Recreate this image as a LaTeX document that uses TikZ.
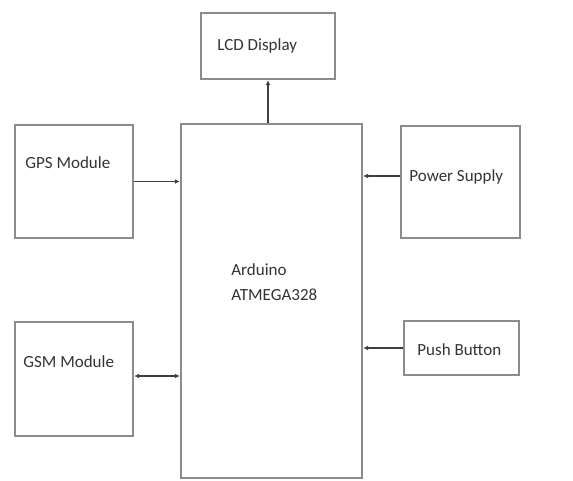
\documentclass[tikz,border=0pt]{standalone}
\usepackage{fontspec}
\setmainfont{Carlito}
\usetikzlibrary{arrows.meta}

\begin{document}
\begin{tikzpicture}[
    x=0.5pt, y=-0.5pt,
    >={Latex[length=2.5pt,width=2.5pt]},
    box/.style={draw=black!45, line width=1.2pt, rectangle, inner sep=0pt},
    label/.style={font=\fontsize{8.5}{10}\selectfont, text=black!80, anchor=west, inner sep=0pt},
    link/.style={->, line width=0.6pt, color=black!75}
]
    \useasboundingbox (0,0) rectangle (573,481);

    % Controller in the middle
    \node[box, minimum width=90.5pt, minimum height=177pt] (main) at (271.5,301) {};
    \node[label] (mainA) at (231,270) {Arduino};
    \node[label] (mainB) at (231,295) {ATMEGA328};

    % LCD on top
    \node[box, minimum width=67pt, minimum height=33pt] (lcd) at (268,46) {};
    \node[label] (lcdtxt) at (217,46) {LCD Display};

    % Left blocks
    \node[box, minimum width=59pt, minimum height=56.5pt] (gps) at (74,181.5) {};
    \node[label] (gpstxt) at (25,163) {GPS Module};
    \node[box, minimum width=59pt, minimum height=57pt] (gsm) at (74,379) {};
    \node[label] (gsmtxt) at (23,362) {GSM Module};

    % Right blocks
    \node[box, minimum width=59.5pt, minimum height=56pt] (power) at (460.5,182) {};
    \node[label] (powertxt) at (409,177) {Power Supply};
    \node[box, minimum width=57.5pt, minimum height=27pt] (push) at (461.5,348) {};
    \node[label] (pushtxt) at (417,350) {Push Button};

    % Connections
    \draw[link] (main.north -| lcd.south) -- (lcd.south);
    \draw[link] (gps.east) -- (gps.east -| main.west);
    \draw[link] ([yshift=3pt]power.west) -- ([yshift=3pt]power.west -| main.east);
    \draw[link] (push.west) -- (push.west -| main.east);
    \draw[link, <->] ([yshift=1.5pt]gsm.east) -- ([yshift=1.5pt]gsm.east -| main.west);

\end{tikzpicture}
\end{document}
